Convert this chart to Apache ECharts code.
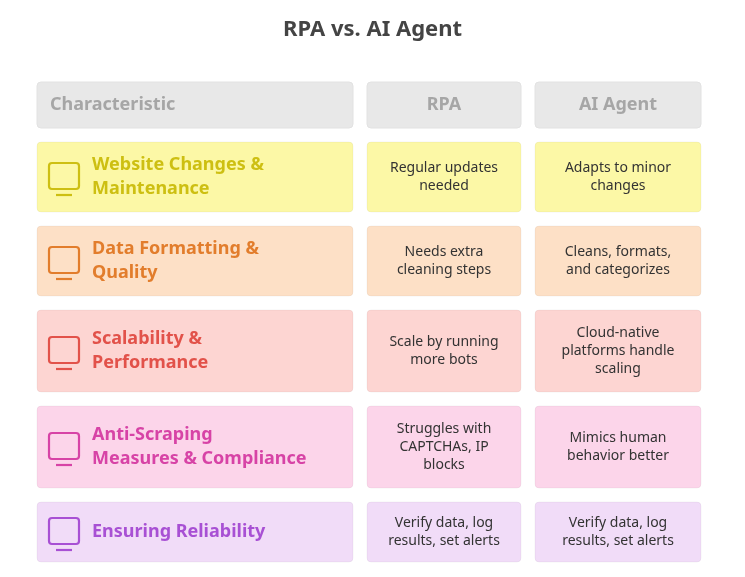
<!DOCTYPE html>
<html><head><meta charset="utf-8">
<script src="https://cdn.jsdelivr.net/npm/echarts@6/dist/echarts.min.js"></script>
<style>html,body{margin:0;background:#fff}#c{width:745px;height:577px}</style>
</head><body><div id="c"></div>
<script>
const title = 'RPA vs. AI Agent';
const headers = ['Characteristic', 'RPA', 'AI Agent'];
const characteristics = ['Website Changes &\nMaintenance', 'Data Formatting &\nQuality', 'Scalability &\nPerformance', 'Anti-Scraping\nMeasures & Compliance', 'Ensuring Reliability'];
const rpa = ['Regular updates\nneeded', 'Needs extra\ncleaning steps', 'Scale by running\nmore bots', 'Struggles with\nCAPTCHAs, IP\nblocks', 'Verify data, log\nresults, set alerts'];
const aiAgent = ['Adapts to minor\nchanges', 'Cleans, formats,\nand categorizes', 'Cloud-native\nplatforms handle\nscaling', 'Mimics human\nbehavior better', 'Verify data, log\nresults, set alerts'];

// layout & style
const colX = [[37, 353], [367, 521], [535, 701]];
const rowY = [[82, 128], [142, 212], [226, 296], [310, 392], [406, 488], [502, 562]];
const fills = ['#e8e8e8', '#fcf8a6', '#fde0c6', '#fdd5d2', '#fcd5ea', '#f1dcf8'];
const accents = ['#a8a8a8', '#cdbf12', '#e27d2c', '#e2524a', '#d743a6', '#a850d4'];
const font = '"Noto Sans", sans-serif';

function renderItem(params, api) {
  const r = params.dataIndex;
  const [y0, y1] = rowY[r];
  const cy = (y0 + y1) / 2;
  const children = [];
  colX.forEach(([x0, x1], c) => {
    children.push({type: 'rect', shape: {x: x0, y: y0, width: x1 - x0, height: y1 - y0, r: 4},
      style: {fill: fills[r], stroke: r === 0 ? '#e2e2e2' : 'rgba(0,0,0,0.04)', lineWidth: 1}});
    let text, st;
    if (r === 0) {
      text = headers[c];
      st = {fill: '#a6a6a6', font: `bold 18px ${font}`};
    } else if (c === 0) {
      text = characteristics[r - 1];
      st = {fill: accents[r], font: `bold 18px ${font}`, lineHeight: 24};
    } else {
      text = (c === 1 ? rpa : aiAgent)[r - 1];
      st = {fill: '#333', font: `14px ${font}`, lineHeight: 18};
    }
    const left = (r === 0 || c === 0) && c === 0;
    const tx = c === 0 ? (r === 0 ? x0 + 13 : x0 + 55) : (x0 + x1) / 2;
    children.push({type: 'text', x: tx, y: cy,
      style: Object.assign({text, align: c === 0 ? 'left' : 'center', verticalAlign: 'middle'}, st)});
  });
  if (r > 0) {
    // simple outline icon
    children.push({type: 'rect', shape: {x: 49, y: cy - 14, width: 30, height: 26, r: 3},
      style: {fill: 'none', stroke: accents[r], lineWidth: 2.2}});
    children.push({type: 'line', shape: {x1: 56, y1: cy + 18, x2: 72, y2: cy + 18},
      style: {stroke: accents[r], lineWidth: 2.2}});
  }
  return {type: 'group', children};
}

const chart = echarts.init(document.getElementById('c'));
chart.setOption({
  backgroundColor: '#fff',
  title: {text: title, left: 'center', top: 14, textStyle: {fontFamily: font, fontSize: 22, fontWeight: 'bold', color: '#444'}},
  series: [{type: 'custom', coordinateSystem: 'none', renderItem,
    data: rowY.map((_, i) => i)}]
});
</script></body></html>
